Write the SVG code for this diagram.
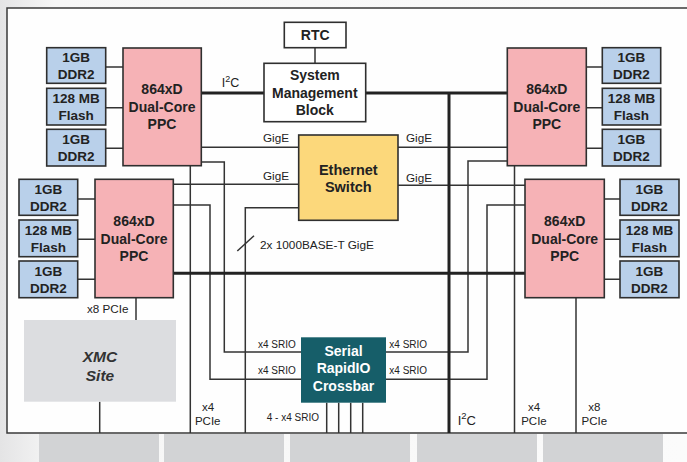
<svg xmlns="http://www.w3.org/2000/svg" width="687" height="462" viewBox="0 0 687 462">
<defs>
<linearGradient id="bg" x1="0" y1="0" x2="1" y2="0">
<stop offset="0" stop-color="#e4e4e5"/>
<stop offset="0.08" stop-color="#f6f6f6"/>
<stop offset="1" stop-color="#fbfbfb"/>
</linearGradient>
<style>
.b{font-family:"Liberation Sans",Arial,sans-serif;font-weight:bold;fill:#222;text-anchor:middle}
.m{font-size:13.5px}
.p{font-size:14px}
.r{font-family:"Liberation Sans",Arial,sans-serif;fill:#222}
.s{font-size:10px}
.g{font-size:11.7px}
.c{text-anchor:middle}
.mem{fill:#b9d0ea;stroke:#2f2f2f;stroke-width:1.6}
.ppc{fill:#f6b2b6;stroke:#2f2f2f;stroke-width:1.6}
.box{fill:#ffffff;stroke:#2f2f2f;stroke-width:1.6}
.ln{fill:none;stroke:#333;stroke-width:1.5}
.tk{fill:none;stroke:#222;stroke-width:3}
.tab{fill:#d2d3d5}
</style>
</defs>
<rect width="687" height="462" fill="url(#bg)"/>
<rect x="7" y="8" width="682" height="425" fill="#fefefe"/>
<path d="M687,8 H7 V433 H687" fill="none" stroke="#3a3a3a" stroke-width="1.5"/>
<g id="tabs">
<rect class="tab" x="39" y="434" width="120" height="28"/>
<rect class="tab" x="164" y="434" width="120" height="28"/>
<rect class="tab" x="290" y="434" width="120" height="28"/>
<rect class="tab" x="417" y="434" width="120" height="28"/>
<rect class="tab" x="543" y="434" width="120" height="28"/>
</g>
<g id="connectors">
<!-- memory links -->
<path class="ln" d="M106,67H123M106,107.7H123M106,148.3H123"/>
<path class="ln" d="M77.7,199H95M77.7,239.3H95M77.7,279.3H95"/>
<path class="ln" d="M586.3,67H602.3M586.3,107.7H602.3M586.3,148.3H602.3"/>
<path class="ln" d="M604.3,199H620M604.3,239.3H620M604.3,279.3H620"/>
<!-- RTC -->
<path class="ln" d="M315,47.7V63.3"/>
<!-- GigE -->
<path class="ln" d="M201,147.3H299M398,147.3H507"/>
<path class="ln" d="M173,184.3H299M398,185.3H525"/>
<!-- SRIO left -->
<path class="ln" d="M201,162H224.3V352H301"/>
<path class="ln" d="M173,205H210V379.3H301"/>
<!-- SRIO right -->
<path class="ln" d="M507,161H468V352H386"/>
<path class="ln" d="M525,205H487V379.3H386"/>
<!-- 2x GigE -->
<path class="ln" d="M299,207.7H245.3V433"/>
<path class="ln" d="M237.3,251L254,235.7"/>
<!-- PCIe -->
<path class="ln" d="M190.3,165.7V433"/>
<path class="ln" d="M514.5,165.7V433"/>
<path class="ln" d="M576,297.7V433"/>
<path class="ln" d="M136,297.7V320"/>
<path class="ln" d="M99.7,401.7V433"/>
<!-- crossbar down -->
<path class="ln" d="M326.7,402.7V433M338.7,402.7V433M350.7,402.7V433M362.7,402.7V433"/>
<!-- I2C thick -->
<path class="tk" d="M201,93H264M366,93H507"/>
<path class="tk" d="M449,93V433"/>
<path class="tk" d="M173,273.3H525"/>
</g>
<g id="ppc1">
<rect class="ppc" x="123" y="48" width="78.3" height="117.7"/>
<text class="b p" x="162" y="94">864xD</text>
<text class="b p" x="162" y="112">Dual-Core</text>
<text class="b p" x="162" y="129">PPC</text>
</g>
<g id="mem1a"><rect class="mem" x="46.7" y="47.7" width="59" height="35.6"/><text class="b m" x="76.2" y="62">1GB</text><text class="b m" x="76.2" y="79">DDR2</text></g>
<g id="mem1b"><rect class="mem" x="46.7" y="88.3" width="59" height="36.7"/><text class="b m" x="76.2" y="103">128 MB</text><text class="b m" x="76.2" y="120">Flash</text></g>
<g id="mem1c"><rect class="mem" x="46.7" y="129.3" width="59" height="36.7"/><text class="b m" x="76.2" y="144">1GB</text><text class="b m" x="76.2" y="161">DDR2</text></g>
<g id="ppc2">
<rect class="ppc" x="95" y="179.3" width="78.3" height="118.4"/>
<text class="b p" x="134" y="225.5">864xD</text>
<text class="b p" x="134" y="243.5">Dual-Core</text>
<text class="b p" x="134" y="260.5">PPC</text>
</g>
<g id="mem2a"><rect class="mem" x="19" y="179.3" width="58.7" height="36"/><text class="b m" x="48.3" y="193.5">1GB</text><text class="b m" x="48.3" y="210.5">DDR2</text></g>
<g id="mem2b"><rect class="mem" x="19" y="220" width="58.7" height="36.7"/><text class="b m" x="48.3" y="234.5">128 MB</text><text class="b m" x="48.3" y="251.5">Flash</text></g>
<g id="mem2c"><rect class="mem" x="19" y="261" width="58.7" height="36.7"/><text class="b m" x="48.3" y="275.5">1GB</text><text class="b m" x="48.3" y="292.5">DDR2</text></g>
<g id="ppc3">
<rect class="ppc" x="507.3" y="48" width="79" height="117.7"/>
<text class="b p" x="546.8" y="94">864xD</text>
<text class="b p" x="546.8" y="112">Dual-Core</text>
<text class="b p" x="546.8" y="129">PPC</text>
</g>
<g id="mem3a"><rect class="mem" x="602.3" y="47.7" width="58.4" height="35.6"/><text class="b m" x="631.5" y="62">1GB</text><text class="b m" x="631.5" y="79">DDR2</text></g>
<g id="mem3b"><rect class="mem" x="602.3" y="88.3" width="58.4" height="36.7"/><text class="b m" x="631.5" y="103">128 MB</text><text class="b m" x="631.5" y="120">Flash</text></g>
<g id="mem3c"><rect class="mem" x="602.3" y="129.3" width="58.4" height="36.7"/><text class="b m" x="631.5" y="144">1GB</text><text class="b m" x="631.5" y="161">DDR2</text></g>
<g id="ppc4">
<rect class="ppc" x="525" y="179.3" width="79.3" height="118.4"/>
<text class="b p" x="564.7" y="225.5">864xD</text>
<text class="b p" x="564.7" y="243.5">Dual-Core</text>
<text class="b p" x="564.7" y="260.5">PPC</text>
</g>
<g id="mem4a"><rect class="mem" x="620" y="179.3" width="59" height="36"/><text class="b m" x="649.5" y="193.5">1GB</text><text class="b m" x="649.5" y="210.5">DDR2</text></g>
<g id="mem4b"><rect class="mem" x="620" y="220" width="59" height="36.7"/><text class="b m" x="649.5" y="234.5">128 MB</text><text class="b m" x="649.5" y="251.5">Flash</text></g>
<g id="mem4c"><rect class="mem" x="620" y="261" width="59" height="36.7"/><text class="b m" x="649.5" y="275.5">1GB</text><text class="b m" x="649.5" y="292.5">DDR2</text></g>
<g id="rtc"><rect class="box" x="284.3" y="22.3" width="61.7" height="25.4"/><text class="b p" x="315.2" y="40">RTC</text></g>
<g id="smb"><rect class="box" x="264" y="63.3" width="101.7" height="58.4"/>
<text class="b p" x="314.8" y="80">System</text><text class="b p" x="314.8" y="98">Management</text><text class="b p" x="314.8" y="115">Block</text></g>
<g id="switch"><rect x="298.7" y="135" width="99.3" height="85.3" fill="#fcd87b" stroke="#2f2f2f" stroke-width="1.6"/>
<text class="b p" x="348.3" y="175" style="font-size:14.5px">Ethernet</text><text class="b p" x="348.3" y="192" style="font-size:14.5px">Switch</text></g>
<g id="crossbar"><rect x="301" y="337.3" width="85" height="65.4" fill="#165e69"/>
<text class="b p" x="343.5" y="356" fill="#fff" style="fill:#fff">Serial</text><text class="b p" x="343.5" y="373.3" style="fill:#fff">RapidIO</text><text class="b p" x="343.5" y="391" style="fill:#fff">Crossbar</text></g>
<g id="xmc"><rect x="24" y="320" width="152" height="81.7" fill="#dcdde0"/>
<text class="b" x="100" y="361.5" style="font-size:15.5px;font-style:italic;fill:#333">XMC</text><text class="b" x="100" y="380.5" style="font-size:15.5px;font-style:italic;fill:#333">Site</text></g>
<g id="labels">
<text class="r" x="221.7" y="87" style="font-size:12.5px">I<tspan dy="-5" style="font-size:9px">2</tspan><tspan dy="5">C</tspan></text>
<text class="r g" x="263" y="142">GigE</text>
<text class="r g" x="263" y="180">GigE</text>
<text class="r g" x="406" y="142">GigE</text>
<text class="r g" x="406" y="182">GigE</text>
<text class="r" x="260" y="248.7" style="font-size:11.8px">2x 1000BASE-T GigE</text>
<text class="r s" x="258" y="347.6">x4 SRIO</text>
<text class="r s" x="258" y="374.3">x4 SRIO</text>
<text class="r s" x="389.3" y="347.6">x4 SRIO</text>
<text class="r s" x="389.3" y="374.3">x4 SRIO</text>
<text class="r s" x="319" y="421.3" style="text-anchor:end">4 - x4 SRIO</text>
<text class="r" x="128.5" y="312.5" style="font-size:11.7px;text-anchor:end">x8 PCIe</text>
<text class="r c" x="208" y="411" style="font-size:11.5px">x4</text>
<text class="r c" x="207.7" y="425" style="font-size:11.5px">PCIe</text>
<text class="r c" x="534" y="411" style="font-size:11.5px">x4</text>
<text class="r c" x="534" y="425" style="font-size:11.5px">PCIe</text>
<text class="r c" x="594.3" y="411" style="font-size:11.5px">x8</text>
<text class="r c" x="594.3" y="425" style="font-size:11.5px">PCIe</text>
<text class="r" x="457.7" y="424.5" style="font-size:13px">I<tspan dy="-5.5" style="font-size:9.5px">2</tspan><tspan dy="5.5">C</tspan></text>
</g>
</svg>
